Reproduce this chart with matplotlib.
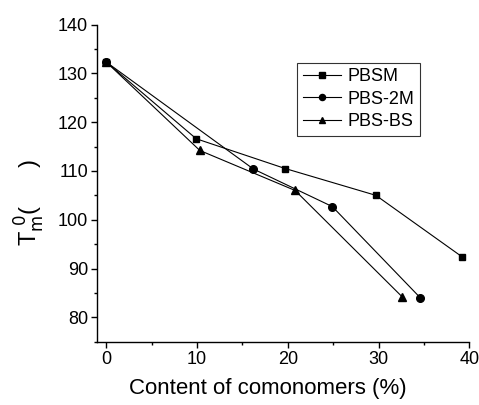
import matplotlib.pyplot as plt
from matplotlib.ticker import MultipleLocator

plt.rcParams['font.family'] = ['Liberation Sans', 'DejaVu Sans']

# Data
series = ['PBSM', 'PBS-2M', 'PBS-BS']
x_pbsm = [0, 9.9, 19.7, 29.7, 39.2]
y_pbsm = [132.3, 116.6, 110.5, 105.0, 92.4]
x_pbs2m = [0, 16.2, 24.9, 34.6]
y_pbs2m = [132.3, 110.4, 102.7, 84.0]
x_pbsbs = [0, 10.3, 20.8, 32.6]
y_pbsbs = [132.3, 114.2, 106.0, 84.2]

fig = plt.figure(figsize=(4.79, 4.05), dpi=100)
ax = fig.add_axes([0.203, 0.156, 0.777, 0.7835])

kw = dict(color='black', linewidth=0.8)
ax.plot(x_pbsm, y_pbsm, marker='s', markersize=5, label=series[0], **kw)
ax.plot(x_pbs2m, y_pbs2m, marker='o', markersize=5.5, label=series[1], **kw)
ax.plot(x_pbsbs, y_pbsbs, marker='^', markersize=6, label=series[2], **kw)

ax.set_xlim(-1, 40)
ax.set_ylim(75, 140)
ax.xaxis.set_major_locator(MultipleLocator(10))
ax.xaxis.set_minor_locator(MultipleLocator(5))
ax.yaxis.set_major_locator(MultipleLocator(10))
ax.yaxis.set_minor_locator(MultipleLocator(5))
ax.set_yticks([80, 90, 100, 110, 120, 130, 140])

for side in ['top', 'right']:
    ax.spines[side].set_visible(False)
for side in ['left', 'bottom']:
    ax.spines[side].set_linewidth(1.0)
ax.spines['left'].set_bounds(75, 140)

ax.tick_params(which='major', direction='out', length=4.5, width=1.0,
               labelsize=13, pad=2)
ax.tick_params(which='minor', direction='out', length=2.5, width=1.0)

ax.set_xlabel('Content of comonomers (%)', fontsize=16)
ax.xaxis.set_label_coords(0.458, -0.115)
ax.set_ylabel(r'T$_\mathrm{m}^{\ 0}$(      )', fontsize=17)
ax.yaxis.set_label_coords(-0.135, 0.44)

leg = ax.legend(loc='upper right', bbox_to_anchor=(0.8675, 0.879), fontsize=13,
                frameon=True, fancybox=False, edgecolor='black',
                handlelength=2.1, labelspacing=0.3, borderpad=0.3,
                handletextpad=0.4, borderaxespad=0, markerscale=0.8)
leg.get_frame().set_linewidth(0.8)

plt.savefig('out.png', dpi=100)
